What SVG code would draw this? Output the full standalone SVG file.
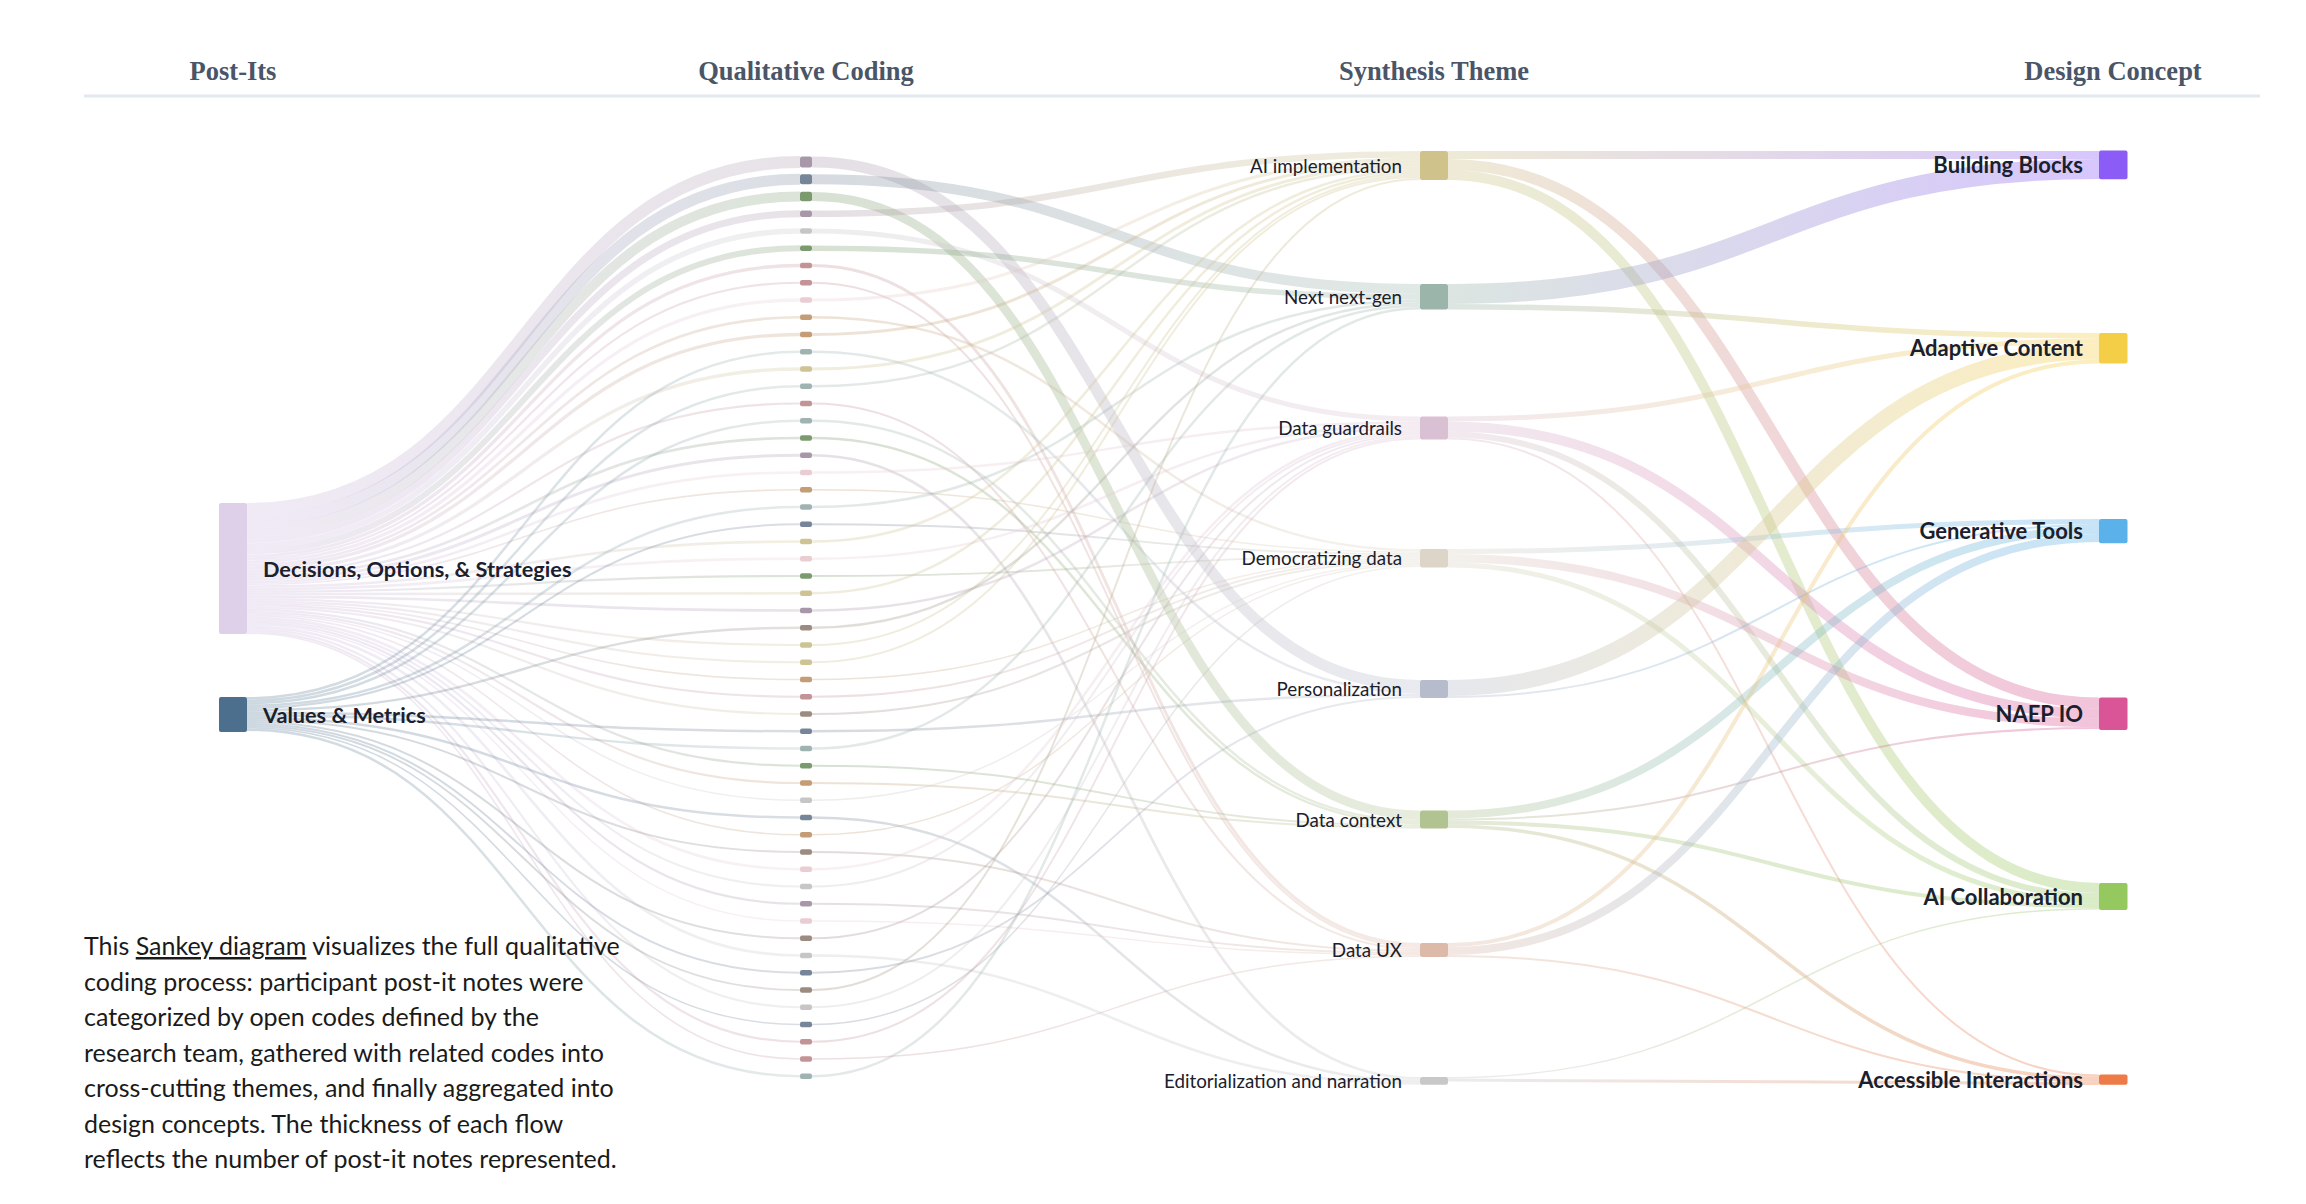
<svg xmlns="http://www.w3.org/2000/svg" width="2306" height="1204" viewBox="0 0 2306 1204">
<style>
.hdr{font-family:"Liberation Serif","DejaVu Serif",serif;font-weight:700;font-size:26.5px;fill:#4a5568;text-anchor:middle}
.lbl{font-family:Lato,"Liberation Sans",sans-serif;font-weight:700;font-size:21.7px;fill:#1a202c}
.cl{font-family:Lato,"Liberation Sans",sans-serif;font-weight:700;font-size:22px;fill:#1a202c;text-anchor:end}
.tl{font-family:Lato,"Liberation Sans",sans-serif;font-size:18.8px;fill:#1a202c;text-anchor:end}
.desc{font-family:Lato,"Liberation Sans",sans-serif;font-size:25px;fill:#1a1a1a}
.links path{fill:none}
.l1 path{stroke-opacity:.27}
.l2 path{stroke-opacity:.3}
.l3 path{stroke-opacity:.35}
.cM{fill:#a897a8}.cS{fill:#778599}.cG{fill:#7b9a6e}.cL{fill:#c6c6c6}.cR{fill:#c39497}
.cP{fill:#e9cdd2}.cT{fill:#c49d76}.cE{fill:#9fb4b2}.cK{fill:#cdc394}.cB{fill:#9b8b80}
</style>
<defs>
<linearGradient id="ga" gradientUnits="userSpaceOnUse" x1="247" y1="0" x2="800" y2="0"/>
<linearGradient id="gb" gradientUnits="userSpaceOnUse" x1="812" y1="0" x2="1420" y2="0"/>
<linearGradient id="gc" gradientUnits="userSpaceOnUse" x1="1448" y1="0" x2="2099" y2="0"/>
<linearGradient id="dM" href="#ga"><stop offset="0" stop-color="#c8b2dd"/><stop offset="1" stop-color="#a897a8"/></linearGradient>
<linearGradient id="dS" href="#ga"><stop offset="0" stop-color="#c8b2dd"/><stop offset="1" stop-color="#778599"/></linearGradient>
<linearGradient id="dG" href="#ga"><stop offset="0" stop-color="#c8b2dd"/><stop offset="1" stop-color="#7b9a6e"/></linearGradient>
<linearGradient id="dL" href="#ga"><stop offset="0" stop-color="#c8b2dd"/><stop offset="1" stop-color="#c6c6c6"/></linearGradient>
<linearGradient id="dR" href="#ga"><stop offset="0" stop-color="#c8b2dd"/><stop offset="1" stop-color="#c39497"/></linearGradient>
<linearGradient id="dP" href="#ga"><stop offset="0" stop-color="#c8b2dd"/><stop offset="1" stop-color="#e9cdd2"/></linearGradient>
<linearGradient id="dT" href="#ga"><stop offset="0" stop-color="#c8b2dd"/><stop offset="1" stop-color="#c49d76"/></linearGradient>
<linearGradient id="dK" href="#ga"><stop offset="0" stop-color="#c8b2dd"/><stop offset="1" stop-color="#cdc394"/></linearGradient>
<linearGradient id="vS" href="#ga"><stop offset="0" stop-color="#4b6f8d"/><stop offset="1" stop-color="#778599"/></linearGradient>
<linearGradient id="vE" href="#ga"><stop offset="0" stop-color="#4b6f8d"/><stop offset="1" stop-color="#9fb4b2"/></linearGradient>
<linearGradient id="vB" href="#ga"><stop offset="0" stop-color="#4b6f8d"/><stop offset="1" stop-color="#9b8b80"/></linearGradient>
<linearGradient id="kM_AI" href="#gb"><stop offset="0" stop-color="#a897a8"/><stop offset="1" stop-color="#cfc38b"/></linearGradient>
<linearGradient id="kP_AI" href="#gb"><stop offset="0" stop-color="#e9cdd2"/><stop offset="1" stop-color="#cfc38b"/></linearGradient>
<linearGradient id="kT_AI" href="#gb"><stop offset="0" stop-color="#c49d76"/><stop offset="1" stop-color="#cfc38b"/></linearGradient>
<linearGradient id="kK_AI" href="#gb"><stop offset="0" stop-color="#cdc394"/><stop offset="1" stop-color="#cfc38b"/></linearGradient>
<linearGradient id="kE_AI" href="#gb"><stop offset="0" stop-color="#9fb4b2"/><stop offset="1" stop-color="#cfc38b"/></linearGradient>
<linearGradient id="kB_AI" href="#gb"><stop offset="0" stop-color="#9b8b80"/><stop offset="1" stop-color="#cfc38b"/></linearGradient>
<linearGradient id="kS_NN" href="#gb"><stop offset="0" stop-color="#778599"/><stop offset="1" stop-color="#9bb5aa"/></linearGradient>
<linearGradient id="kG_NN" href="#gb"><stop offset="0" stop-color="#7b9a6e"/><stop offset="1" stop-color="#9bb5aa"/></linearGradient>
<linearGradient id="kE_NN" href="#gb"><stop offset="0" stop-color="#9fb4b2"/><stop offset="1" stop-color="#9bb5aa"/></linearGradient>
<linearGradient id="kB_NN" href="#gb"><stop offset="0" stop-color="#9b8b80"/><stop offset="1" stop-color="#9bb5aa"/></linearGradient>
<linearGradient id="kL_DG" href="#gb"><stop offset="0" stop-color="#c6c6c6"/><stop offset="1" stop-color="#dac0d3"/></linearGradient>
<linearGradient id="kP_DG" href="#gb"><stop offset="0" stop-color="#e9cdd2"/><stop offset="1" stop-color="#dac0d3"/></linearGradient>
<linearGradient id="kM_DG" href="#gb"><stop offset="0" stop-color="#a897a8"/><stop offset="1" stop-color="#dac0d3"/></linearGradient>
<linearGradient id="kB_DG" href="#gb"><stop offset="0" stop-color="#9b8b80"/><stop offset="1" stop-color="#dac0d3"/></linearGradient>
<linearGradient id="kR_DG" href="#gb"><stop offset="0" stop-color="#c39497"/><stop offset="1" stop-color="#dac0d3"/></linearGradient>
<linearGradient id="kT_DD" href="#gb"><stop offset="0" stop-color="#c49d76"/><stop offset="1" stop-color="#ddd5c7"/></linearGradient>
<linearGradient id="kS_DD" href="#gb"><stop offset="0" stop-color="#778599"/><stop offset="1" stop-color="#ddd5c7"/></linearGradient>
<linearGradient id="kG_DD" href="#gb"><stop offset="0" stop-color="#7b9a6e"/><stop offset="1" stop-color="#ddd5c7"/></linearGradient>
<linearGradient id="kR_DD" href="#gb"><stop offset="0" stop-color="#c39497"/><stop offset="1" stop-color="#ddd5c7"/></linearGradient>
<linearGradient id="kB_DD" href="#gb"><stop offset="0" stop-color="#9b8b80"/><stop offset="1" stop-color="#ddd5c7"/></linearGradient>
<linearGradient id="kL_DD" href="#gb"><stop offset="0" stop-color="#c6c6c6"/><stop offset="1" stop-color="#ddd5c7"/></linearGradient>
<linearGradient id="kM_PE" href="#gb"><stop offset="0" stop-color="#a897a8"/><stop offset="1" stop-color="#b6bccb"/></linearGradient>
<linearGradient id="kE_PE" href="#gb"><stop offset="0" stop-color="#9fb4b2"/><stop offset="1" stop-color="#b6bccb"/></linearGradient>
<linearGradient id="kS_PE" href="#gb"><stop offset="0" stop-color="#778599"/><stop offset="1" stop-color="#b6bccb"/></linearGradient>
<linearGradient id="kG_DC" href="#gb"><stop offset="0" stop-color="#7b9a6e"/><stop offset="1" stop-color="#b1c391"/></linearGradient>
<linearGradient id="kE_DC" href="#gb"><stop offset="0" stop-color="#9fb4b2"/><stop offset="1" stop-color="#b1c391"/></linearGradient>
<linearGradient id="kT_DC" href="#gb"><stop offset="0" stop-color="#c49d76"/><stop offset="1" stop-color="#b1c391"/></linearGradient>
<linearGradient id="kR_UX" href="#gb"><stop offset="0" stop-color="#c39497"/><stop offset="1" stop-color="#dcb9a9"/></linearGradient>
<linearGradient id="kB_UX" href="#gb"><stop offset="0" stop-color="#9b8b80"/><stop offset="1" stop-color="#dcb9a9"/></linearGradient>
<linearGradient id="kM_UX" href="#gb"><stop offset="0" stop-color="#a897a8"/><stop offset="1" stop-color="#dcb9a9"/></linearGradient>
<linearGradient id="kP_UX" href="#gb"><stop offset="0" stop-color="#e9cdd2"/><stop offset="1" stop-color="#dcb9a9"/></linearGradient>
<linearGradient id="kM_ED" href="#gb"><stop offset="0" stop-color="#a897a8"/><stop offset="1" stop-color="#c8c8c8"/></linearGradient>
<linearGradient id="kS_ED" href="#gb"><stop offset="0" stop-color="#778599"/><stop offset="1" stop-color="#c8c8c8"/></linearGradient>
<linearGradient id="kL_ED" href="#gb"><stop offset="0" stop-color="#c6c6c6"/><stop offset="1" stop-color="#c8c8c8"/></linearGradient>
<linearGradient id="tAI_BB" href="#gc"><stop offset="0" stop-color="#cfc38b"/><stop offset="1" stop-color="#8b5cf6"/></linearGradient>
<linearGradient id="tAI_NA" href="#gc"><stop offset="0" stop-color="#cfc38b"/><stop offset="1" stop-color="#d95597"/></linearGradient>
<linearGradient id="tAI_AC" href="#gc"><stop offset="0" stop-color="#cfc38b"/><stop offset="1" stop-color="#95c95f"/></linearGradient>
<linearGradient id="tNN_BB" href="#gc"><stop offset="0" stop-color="#9bb5aa"/><stop offset="1" stop-color="#8b5cf6"/></linearGradient>
<linearGradient id="tNN_AD" href="#gc"><stop offset="0" stop-color="#9bb5aa"/><stop offset="1" stop-color="#f5ce47"/></linearGradient>
<linearGradient id="tDG_AD" href="#gc"><stop offset="0" stop-color="#dac0d3"/><stop offset="1" stop-color="#f5ce47"/></linearGradient>
<linearGradient id="tDG_NA" href="#gc"><stop offset="0" stop-color="#dac0d3"/><stop offset="1" stop-color="#d95597"/></linearGradient>
<linearGradient id="tDG_AC" href="#gc"><stop offset="0" stop-color="#dac0d3"/><stop offset="1" stop-color="#95c95f"/></linearGradient>
<linearGradient id="tDG_AX" href="#gc"><stop offset="0" stop-color="#dac0d3"/><stop offset="1" stop-color="#ec7b47"/></linearGradient>
<linearGradient id="tDD_GT" href="#gc"><stop offset="0" stop-color="#ddd5c7"/><stop offset="1" stop-color="#5bb1e9"/></linearGradient>
<linearGradient id="tDD_NA" href="#gc"><stop offset="0" stop-color="#ddd5c7"/><stop offset="1" stop-color="#d95597"/></linearGradient>
<linearGradient id="tDD_AC" href="#gc"><stop offset="0" stop-color="#ddd5c7"/><stop offset="1" stop-color="#95c95f"/></linearGradient>
<linearGradient id="tPE_AD" href="#gc"><stop offset="0" stop-color="#b6bccb"/><stop offset="1" stop-color="#f5ce47"/></linearGradient>
<linearGradient id="tPE_GT" href="#gc"><stop offset="0" stop-color="#b6bccb"/><stop offset="1" stop-color="#5bb1e9"/></linearGradient>
<linearGradient id="tDC_GT" href="#gc"><stop offset="0" stop-color="#b1c391"/><stop offset="1" stop-color="#5bb1e9"/></linearGradient>
<linearGradient id="tDC_NA" href="#gc"><stop offset="0" stop-color="#b1c391"/><stop offset="1" stop-color="#d95597"/></linearGradient>
<linearGradient id="tDC_AC" href="#gc"><stop offset="0" stop-color="#b1c391"/><stop offset="1" stop-color="#95c95f"/></linearGradient>
<linearGradient id="tDC_AX" href="#gc"><stop offset="0" stop-color="#b1c391"/><stop offset="1" stop-color="#ec7b47"/></linearGradient>
<linearGradient id="tUX_AD" href="#gc"><stop offset="0" stop-color="#dcb9a9"/><stop offset="1" stop-color="#f5ce47"/></linearGradient>
<linearGradient id="tUX_GT" href="#gc"><stop offset="0" stop-color="#dcb9a9"/><stop offset="1" stop-color="#5bb1e9"/></linearGradient>
<linearGradient id="tUX_AX" href="#gc"><stop offset="0" stop-color="#dcb9a9"/><stop offset="1" stop-color="#ec7b47"/></linearGradient>
<linearGradient id="tED_AC" href="#gc"><stop offset="0" stop-color="#c8c8c8"/><stop offset="1" stop-color="#95c95f"/></linearGradient>
<linearGradient id="tED_AX" href="#gc"><stop offset="0" stop-color="#c8c8c8"/><stop offset="1" stop-color="#ec7b47"/></linearGradient>
</defs>
<rect x="0" y="0" width="2306" height="1204" fill="#ffffff"/>
<g id="headers">
<text class="hdr" x="233" y="80">Post-Its</text>
<text class="hdr" x="806" y="80">Qualitative Coding</text>
<text class="hdr" x="1434" y="80">Synthesis Theme</text>
<text class="hdr" x="2113" y="80">Design Concept</text>
<line x1="84" y1="96" x2="2260" y2="96" stroke="#e2e8f0" stroke-width="3"/>
</g>
<g id="connectors" class="links">
<g class="l1">
<path d="M247 509C523.5 509 523.5 162 800 162" stroke="url(#dM)" stroke-width="12.1"/>
<path d="M247 520.6C523.5 520.6 523.5 179.25 800 179.25" stroke="url(#dS)" stroke-width="11"/>
<path d="M247 531C523.5 531 523.5 196.5 800 196.5" stroke="url(#dG)" stroke-width="9.9"/>
<path d="M247 539.5C523.5 539.5 523.5 213.75 800 213.75" stroke="url(#dM)" stroke-width="7.1"/>
<path d="M247 545.9C523.5 545.9 523.5 231 800 231" stroke="url(#dL)" stroke-width="5.5"/>
<path d="M247 551.6C523.5 551.6 523.5 248.25 800 248.25" stroke="url(#dG)" stroke-width="6"/>
<path d="M247 556.3C523.5 556.3 523.5 265.5 800 265.5" stroke="url(#dR)" stroke-width="3.3"/>
<path d="M247 559C523.5 559 523.5 282.75 800 282.75" stroke="url(#dR)" stroke-width="2.2"/>
<path d="M247 561.8C523.5 561.8 523.5 300 800 300" stroke="url(#dP)" stroke-width="3.3"/>
<path d="M247 564.8C523.5 564.8 523.5 317.25 800 317.25" stroke="url(#dT)" stroke-width="2.7"/>
<path d="M247 567.8C523.5 567.8 523.5 334.5 800 334.5" stroke="url(#dT)" stroke-width="3.3"/>
<path d="M247 571.1C523.5 571.1 523.5 369 800 369" stroke="url(#dK)" stroke-width="3.3"/>
<path d="M247 573.9C523.5 573.9 523.5 403.5 800 403.5" stroke="url(#dR)" stroke-width="2.2"/>
<path d="M247 576.4C523.5 576.4 523.5 438 800 438" stroke="url(#dG)" stroke-width="2.7"/>
<path d="M247 579.2C523.5 579.2 523.5 455.25 800 455.25" stroke="url(#dM)" stroke-width="3"/>
<path d="M247 582.1C523.5 582.1 523.5 472.5 800 472.5" stroke="url(#dP)" stroke-width="2.7"/>
<path d="M247 584.3C523.5 584.3 523.5 489.75 800 489.75" stroke="url(#dT)" stroke-width="1.6"/>
<path d="M247 586.5C523.5 586.5 523.5 541.5 800 541.5" stroke="url(#dK)" stroke-width="2.7"/>
<path d="M247 589.2C523.5 589.2 523.5 558.75 800 558.75" stroke="url(#dP)" stroke-width="2.7"/>
<path d="M247 591.7C523.5 591.7 523.5 576 800 576" stroke="url(#dG)" stroke-width="2.2"/>
<path d="M247 594.2C523.5 594.2 523.5 593.25 800 593.25" stroke="url(#dK)" stroke-width="2.7"/>
<path d="M247 596.9C523.5 596.9 523.5 610.5 800 610.5" stroke="url(#dM)" stroke-width="2.7"/>
<path d="M247 599.4C523.5 599.4 523.5 645 800 645" stroke="url(#dK)" stroke-width="2.2"/>
<path d="M247 601.6C523.5 601.6 523.5 662.25 800 662.25" stroke="url(#dK)" stroke-width="2.2"/>
<path d="M247 603.5C523.5 603.5 523.5 679.5 800 679.5" stroke="url(#dT)" stroke-width="1.6"/>
<path d="M247 605.4C523.5 605.4 523.5 696.75 800 696.75" stroke="url(#dR)" stroke-width="2.2"/>
<path d="M247 607.6C523.5 607.6 523.5 714 800 714" stroke="url(#dK)" stroke-width="2.2"/>
<path d="M247 609.8C523.5 609.8 523.5 765.75 800 765.75" stroke="url(#dG)" stroke-width="2.2"/>
<path d="M247 612C523.5 612 523.5 783 800 783" stroke="url(#dT)" stroke-width="2.2"/>
<path d="M247 613.9C523.5 613.9 523.5 800.25 800 800.25" stroke="url(#dL)" stroke-width="1.6"/>
<path d="M247 615.6C523.5 615.6 523.5 834.75 800 834.75" stroke="url(#dT)" stroke-width="1.6"/>
<path d="M247 617.8C523.5 617.8 523.5 869.25 800 869.25" stroke="url(#dP)" stroke-width="2.7"/>
<path d="M247 620.3C523.5 620.3 523.5 886.5 800 886.5" stroke="url(#dL)" stroke-width="2.2"/>
<path d="M247 622.5C523.5 622.5 523.5 903.75 800 903.75" stroke="url(#dM)" stroke-width="2.2"/>
<path d="M247 624.4C523.5 624.4 523.5 921 800 921" stroke="url(#dP)" stroke-width="1.6"/>
<path d="M247 626.6C523.5 626.6 523.5 955.5 800 955.5" stroke="url(#dL)" stroke-width="2.7"/>
<path d="M247 629.1C523.5 629.1 523.5 1007.25 800 1007.25" stroke="url(#dL)" stroke-width="2.2"/>
<path d="M247 631.3C523.5 631.3 523.5 1041.75 800 1041.75" stroke="url(#dR)" stroke-width="2.2"/>
<path d="M247 633.2C523.5 633.2 523.5 1059 800 1059" stroke="url(#dR)" stroke-width="1.6"/>
<path d="M247 698.25C523.5 698.25 523.5 351.75 800 351.75" stroke="url(#vE)" stroke-width="2.5"/>
<path d="M247 700.75C523.5 700.75 523.5 386.25 800 386.25" stroke="url(#vE)" stroke-width="2.5"/>
<path d="M247 703.25C523.5 703.25 523.5 420.75 800 420.75" stroke="url(#vE)" stroke-width="2.5"/>
<path d="M247 705.75C523.5 705.75 523.5 507 800 507" stroke="url(#vE)" stroke-width="2.5"/>
<path d="M247 708C523.5 708 523.5 524.25 800 524.25" stroke="url(#vS)" stroke-width="2"/>
<path d="M247 710.25C523.5 710.25 523.5 627.75 800 627.75" stroke="url(#vB)" stroke-width="2.5"/>
<path d="M247 712.75C523.5 712.75 523.5 731.25 800 731.25" stroke="url(#vS)" stroke-width="2.5"/>
<path d="M247 715.25C523.5 715.25 523.5 748.5 800 748.5" stroke="url(#vE)" stroke-width="2.5"/>
<path d="M247 717.75C523.5 717.75 523.5 817.5 800 817.5" stroke="url(#vS)" stroke-width="2.5"/>
<path d="M247 720C523.5 720 523.5 852 800 852" stroke="url(#vB)" stroke-width="2"/>
<path d="M247 722C523.5 722 523.5 938.25 800 938.25" stroke="url(#vB)" stroke-width="2"/>
<path d="M247 724C523.5 724 523.5 972.75 800 972.75" stroke="url(#vS)" stroke-width="2"/>
<path d="M247 726C523.5 726 523.5 990 800 990" stroke="url(#vB)" stroke-width="2"/>
<path d="M247 727.75C523.5 727.75 523.5 1024.5 800 1024.5" stroke="url(#vS)" stroke-width="1.5"/>
<path d="M247 729.75C523.5 729.75 523.5 1076.25 800 1076.25" stroke="url(#vE)" stroke-width="2.5"/>
</g>
<g class="l2">
<path d="M812 162C1116 162 1116 685.5 1420 685.5" stroke="url(#kM_PE)" stroke-width="11"/>
<path d="M812 179.25C1116 179.25 1116 289 1420 289" stroke="url(#kS_NN)" stroke-width="10"/>
<path d="M812 196.5C1116 196.5 1116 815 1420 815" stroke="url(#kG_DC)" stroke-width="9"/>
<path d="M812 213.75C1116 213.75 1116 154.25 1420 154.25" stroke="url(#kM_AI)" stroke-width="6.5"/>
<path d="M812 231C1116 231 1116 419 1420 419" stroke="url(#kL_DG)" stroke-width="5"/>
<path d="M812 248.25C1116 248.25 1116 296.75 1420 296.75" stroke="url(#kG_NN)" stroke-width="5.5"/>
<path d="M812 265.5C1116 265.5 1116 944.5 1420 944.5" stroke="url(#kR_UX)" stroke-width="3"/>
<path d="M812 282.75C1116 282.75 1116 947 1420 947" stroke="url(#kR_UX)" stroke-width="2"/>
<path d="M812 300C1116 300 1116 159 1420 159" stroke="url(#kP_AI)" stroke-width="3"/>
<path d="M812 317.25C1116 317.25 1116 550.25 1420 550.25" stroke="url(#kT_DD)" stroke-width="2.5"/>
<path d="M812 334.5C1116 334.5 1116 162 1420 162" stroke="url(#kT_AI)" stroke-width="3"/>
<path d="M812 351.75C1116 351.75 1116 692.25 1420 692.25" stroke="url(#kE_PE)" stroke-width="2.5"/>
<path d="M812 369C1116 369 1116 165 1420 165" stroke="url(#kK_AI)" stroke-width="3"/>
<path d="M812 386.25C1116 386.25 1116 167.75 1420 167.75" stroke="url(#kE_AI)" stroke-width="2.5"/>
<path d="M812 403.5C1116 403.5 1116 949 1420 949" stroke="url(#kR_UX)" stroke-width="2"/>
<path d="M812 420.75C1116 420.75 1116 820.75 1420 820.75" stroke="url(#kE_DC)" stroke-width="2.5"/>
<path d="M812 438C1116 438 1116 823.25 1420 823.25" stroke="url(#kG_DC)" stroke-width="2.5"/>
<path d="M812 455.25C1116 455.25 1116 1078.35 1420 1078.35" stroke="url(#kM_ED)" stroke-width="2.7"/>
<path d="M812 472.5C1116 472.5 1116 422.75 1420 422.75" stroke="url(#kP_DG)" stroke-width="2.5"/>
<path d="M812 489.75C1116 489.75 1116 552.25 1420 552.25" stroke="url(#kT_DD)" stroke-width="1.5"/>
<path d="M812 507C1116 507 1116 300.75 1420 300.75" stroke="url(#kE_NN)" stroke-width="2.5"/>
<path d="M812 524.25C1116 524.25 1116 554 1420 554" stroke="url(#kS_DD)" stroke-width="2"/>
<path d="M812 541.5C1116 541.5 1116 170.25 1420 170.25" stroke="url(#kK_AI)" stroke-width="2.5"/>
<path d="M812 558.75C1116 558.75 1116 425.25 1420 425.25" stroke="url(#kP_DG)" stroke-width="2.5"/>
<path d="M812 576C1116 576 1116 556 1420 556" stroke="url(#kG_DD)" stroke-width="2"/>
<path d="M812 593.25C1116 593.25 1116 172.75 1420 172.75" stroke="url(#kK_AI)" stroke-width="2.5"/>
<path d="M812 610.5C1116 610.5 1116 427.75 1420 427.75" stroke="url(#kM_DG)" stroke-width="2.5"/>
<path d="M812 627.75C1116 627.75 1116 303.25 1420 303.25" stroke="url(#kB_NN)" stroke-width="2.5"/>
<path d="M812 645C1116 645 1116 175 1420 175" stroke="url(#kK_AI)" stroke-width="2"/>
<path d="M812 662.25C1116 662.25 1116 177 1420 177" stroke="url(#kK_AI)" stroke-width="2"/>
<path d="M812 679.5C1116 679.5 1116 557.75 1420 557.75" stroke="url(#kT_DD)" stroke-width="1.5"/>
<path d="M812 696.75C1116 696.75 1116 559.5 1420 559.5" stroke="url(#kR_DD)" stroke-width="2"/>
<path d="M812 714C1116 714 1116 561.5 1420 561.5" stroke="url(#kB_DD)" stroke-width="2"/>
<path d="M812 731.25C1116 731.25 1116 694.75 1420 694.75" stroke="url(#kS_PE)" stroke-width="2.5"/>
<path d="M812 748.5C1116 748.5 1116 305.75 1420 305.75" stroke="url(#kE_NN)" stroke-width="2.5"/>
<path d="M812 765.75C1116 765.75 1116 825.5 1420 825.5" stroke="url(#kG_DC)" stroke-width="2"/>
<path d="M812 783C1116 783 1116 827.5 1420 827.5" stroke="url(#kT_DC)" stroke-width="2"/>
<path d="M812 800.25C1116 800.25 1116 563.25 1420 563.25" stroke="url(#kL_DD)" stroke-width="1.5"/>
<path d="M812 817.5C1116 817.5 1116 1080.95 1420 1080.95" stroke="url(#kS_ED)" stroke-width="2.5"/>
<path d="M812 834.75C1116 834.75 1116 564.75 1420 564.75" stroke="url(#kT_DD)" stroke-width="1.5"/>
<path d="M812 852C1116 852 1116 951 1420 951" stroke="url(#kB_UX)" stroke-width="2"/>
<path d="M812 869.25C1116 869.25 1116 430.25 1420 430.25" stroke="url(#kP_DG)" stroke-width="2.5"/>
<path d="M812 886.5C1116 886.5 1116 432.5 1420 432.5" stroke="url(#kL_DG)" stroke-width="2"/>
<path d="M812 903.75C1116 903.75 1116 953 1420 953" stroke="url(#kM_UX)" stroke-width="2"/>
<path d="M812 921C1116 921 1116 954.75 1420 954.75" stroke="url(#kP_UX)" stroke-width="1.5"/>
<path d="M812 938.25C1116 938.25 1116 434.5 1420 434.5" stroke="url(#kB_DG)" stroke-width="2"/>
<path d="M812 955.5C1116 955.5 1116 1083.45 1420 1083.45" stroke="url(#kL_ED)" stroke-width="2.5"/>
<path d="M812 972.75C1116 972.75 1116 697 1420 697" stroke="url(#kS_PE)" stroke-width="2"/>
<path d="M812 990C1116 990 1116 179 1420 179" stroke="url(#kB_AI)" stroke-width="2"/>
<path d="M812 1007.25C1116 1007.25 1116 436.5 1420 436.5" stroke="url(#kL_DG)" stroke-width="2"/>
<path d="M812 1024.5C1116 1024.5 1116 566.25 1420 566.25" stroke="url(#kS_DD)" stroke-width="1.5"/>
<path d="M812 1041.75C1116 1041.75 1116 438.5 1420 438.5" stroke="url(#kR_DG)" stroke-width="2"/>
<path d="M812 1059C1116 1059 1116 956.25 1420 956.25" stroke="url(#kR_UX)" stroke-width="1.5"/>
<path d="M812 1076.25C1116 1076.25 1116 308.25 1420 308.25" stroke="url(#kE_NN)" stroke-width="2.5"/>
</g>
<g class="l3">
<path d="M1448 155C1773.5 155 1773.5 155 2099 155" stroke="url(#tAI_BB)" stroke-width="8"/>
<path d="M1448 164.5C1773.5 164.5 1773.5 703 2099 703" stroke="url(#tAI_NA)" stroke-width="11"/>
<path d="M1448 175C1773.5 175 1773.5 888 2099 888" stroke="url(#tAI_AC)" stroke-width="10"/>
<path d="M1448 294C1773.5 294 1773.5 169 2099 169" stroke="url(#tNN_BB)" stroke-width="20"/>
<path d="M1448 306.75C1773.5 306.75 1773.5 335.75 2099 335.75" stroke="url(#tNN_AD)" stroke-width="5.5"/>
<path d="M1448 419C1773.5 419 1773.5 341 2099 341" stroke="url(#tDG_AD)" stroke-width="5"/>
<path d="M1448 426.5C1773.5 426.5 1773.5 713.5 2099 713.5" stroke="url(#tDG_NA)" stroke-width="10"/>
<path d="M1448 434.5C1773.5 434.5 1773.5 896 2099 896" stroke="url(#tDG_AC)" stroke-width="6"/>
<path d="M1448 438.5C1773.5 438.5 1773.5 1075.5 2099 1075.5" stroke="url(#tDG_AX)" stroke-width="2"/>
<path d="M1448 551.5C1773.5 551.5 1773.5 521.5 2099 521.5" stroke="url(#tDD_GT)" stroke-width="5"/>
<path d="M1448 558.25C1773.5 558.25 1773.5 722.75 2099 722.75" stroke="url(#tDD_NA)" stroke-width="8.5"/>
<path d="M1448 565C1773.5 565 1773.5 901.5 2099 901.5" stroke="url(#tDD_AC)" stroke-width="5"/>
<path d="M1448 688C1773.5 688 1773.5 351.5 2099 351.5" stroke="url(#tPE_AD)" stroke-width="16"/>
<path d="M1448 697C1773.5 697 1773.5 525 2099 525" stroke="url(#tPE_GT)" stroke-width="2"/>
<path d="M1448 814.5C1773.5 814.5 1773.5 530 2099 530" stroke="url(#tDC_GT)" stroke-width="8"/>
<path d="M1448 819.5C1773.5 819.5 1773.5 728 2099 728" stroke="url(#tDC_NA)" stroke-width="2"/>
<path d="M1448 822.5C1773.5 822.5 1773.5 906 2099 906" stroke="url(#tDC_AC)" stroke-width="4"/>
<path d="M1448 826.25C1773.5 826.25 1773.5 1078.25 2099 1078.25" stroke="url(#tDC_AX)" stroke-width="3.5"/>
<path d="M1448 945C1773.5 945 1773.5 361.5 2099 361.5" stroke="url(#tUX_AD)" stroke-width="4"/>
<path d="M1448 951C1773.5 951 1773.5 538 2099 538" stroke="url(#tUX_GT)" stroke-width="8"/>
<path d="M1448 956C1773.5 956 1773.5 1081 2099 1081" stroke="url(#tUX_AX)" stroke-width="2"/>
<path d="M1448 1077.75C1773.5 1077.75 1773.5 908.75 2099 908.75" stroke="url(#tED_AC)" stroke-width="1.5"/>
<path d="M1448 1080C1773.5 1080 1773.5 1083.5 2099 1083.5" stroke="url(#tED_AX)" stroke-width="3"/>
</g>
</g>
<g id="postit-decisions"><rect x="219" y="503" width="28" height="131" rx="2" fill="#dfd0ea"/><text class="lbl" x="263" y="576.5">Decisions, Options, &amp; Strategies</text></g>
<g id="postit-values"><rect x="219" y="697" width="28" height="35" rx="2" fill="#4b6f8d"/><text class="lbl" x="263" y="722.5">Values &amp; Metrics</text></g>
<g id="codes">
<g id="code-01"><rect class="cM" x="800" y="156.5" width="12" height="11" rx="2"/></g>
<g id="code-02"><rect class="cS" x="800" y="174.25" width="12" height="10" rx="2"/></g>
<g id="code-03"><rect class="cG" x="800" y="191.85" width="12" height="9.3" rx="2"/></g>
<g id="code-04"><rect class="cM" x="800" y="210.4" width="12" height="6.7" rx="2"/></g>
<g id="code-05"><rect class="cL" x="800" y="228.35" width="12" height="5.3" rx="2"/></g>
<g id="code-06"><rect class="cG" x="800" y="245.5" width="12" height="5.5" rx="2"/></g>
<g id="code-07"><rect class="cR" x="800" y="262.75" width="12" height="5.5" rx="2"/></g>
<g id="code-08"><rect class="cR" x="800" y="280" width="12" height="5.5" rx="2"/></g>
<g id="code-09"><rect class="cP" x="800" y="297.25" width="12" height="5.5" rx="2"/></g>
<g id="code-10"><rect class="cT" x="800" y="314.5" width="12" height="5.5" rx="2"/></g>
<g id="code-11"><rect class="cT" x="800" y="331.75" width="12" height="5.5" rx="2"/></g>
<g id="code-12"><rect class="cE" x="800" y="349" width="12" height="5.5" rx="2"/></g>
<g id="code-13"><rect class="cK" x="800" y="366.25" width="12" height="5.5" rx="2"/></g>
<g id="code-14"><rect class="cE" x="800" y="383.5" width="12" height="5.5" rx="2"/></g>
<g id="code-15"><rect class="cR" x="800" y="400.75" width="12" height="5.5" rx="2"/></g>
<g id="code-16"><rect class="cE" x="800" y="418" width="12" height="5.5" rx="2"/></g>
<g id="code-17"><rect class="cG" x="800" y="435.25" width="12" height="5.5" rx="2"/></g>
<g id="code-18"><rect class="cM" x="800" y="452.5" width="12" height="5.5" rx="2"/></g>
<g id="code-19"><rect class="cP" x="800" y="469.75" width="12" height="5.5" rx="2"/></g>
<g id="code-20"><rect class="cT" x="800" y="487" width="12" height="5.5" rx="2"/></g>
<g id="code-21"><rect class="cE" x="800" y="504.25" width="12" height="5.5" rx="2"/></g>
<g id="code-22"><rect class="cS" x="800" y="521.5" width="12" height="5.5" rx="2"/></g>
<g id="code-23"><rect class="cK" x="800" y="538.75" width="12" height="5.5" rx="2"/></g>
<g id="code-24"><rect class="cP" x="800" y="556" width="12" height="5.5" rx="2"/></g>
<g id="code-25"><rect class="cG" x="800" y="573.25" width="12" height="5.5" rx="2"/></g>
<g id="code-26"><rect class="cK" x="800" y="590.5" width="12" height="5.5" rx="2"/></g>
<g id="code-27"><rect class="cM" x="800" y="607.75" width="12" height="5.5" rx="2"/></g>
<g id="code-28"><rect class="cB" x="800" y="625" width="12" height="5.5" rx="2"/></g>
<g id="code-29"><rect class="cK" x="800" y="642.25" width="12" height="5.5" rx="2"/></g>
<g id="code-30"><rect class="cK" x="800" y="659.5" width="12" height="5.5" rx="2"/></g>
<g id="code-31"><rect class="cT" x="800" y="676.75" width="12" height="5.5" rx="2"/></g>
<g id="code-32"><rect class="cR" x="800" y="694" width="12" height="5.5" rx="2"/></g>
<g id="code-33"><rect class="cB" x="800" y="711.25" width="12" height="5.5" rx="2"/></g>
<g id="code-34"><rect class="cS" x="800" y="728.5" width="12" height="5.5" rx="2"/></g>
<g id="code-35"><rect class="cE" x="800" y="745.75" width="12" height="5.5" rx="2"/></g>
<g id="code-36"><rect class="cG" x="800" y="763" width="12" height="5.5" rx="2"/></g>
<g id="code-37"><rect class="cT" x="800" y="780.25" width="12" height="5.5" rx="2"/></g>
<g id="code-38"><rect class="cL" x="800" y="797.5" width="12" height="5.5" rx="2"/></g>
<g id="code-39"><rect class="cS" x="800" y="814.75" width="12" height="5.5" rx="2"/></g>
<g id="code-40"><rect class="cT" x="800" y="832" width="12" height="5.5" rx="2"/></g>
<g id="code-41"><rect class="cB" x="800" y="849.25" width="12" height="5.5" rx="2"/></g>
<g id="code-42"><rect class="cP" x="800" y="866.5" width="12" height="5.5" rx="2"/></g>
<g id="code-43"><rect class="cL" x="800" y="883.75" width="12" height="5.5" rx="2"/></g>
<g id="code-44"><rect class="cM" x="800" y="901" width="12" height="5.5" rx="2"/></g>
<g id="code-45"><rect class="cP" x="800" y="918.25" width="12" height="5.5" rx="2"/></g>
<g id="code-46"><rect class="cB" x="800" y="935.5" width="12" height="5.5" rx="2"/></g>
<g id="code-47"><rect class="cL" x="800" y="952.75" width="12" height="5.5" rx="2"/></g>
<g id="code-48"><rect class="cS" x="800" y="970" width="12" height="5.5" rx="2"/></g>
<g id="code-49"><rect class="cB" x="800" y="987.25" width="12" height="5.5" rx="2"/></g>
<g id="code-50"><rect class="cL" x="800" y="1004.5" width="12" height="5.5" rx="2"/></g>
<g id="code-51"><rect class="cS" x="800" y="1021.75" width="12" height="5.5" rx="2"/></g>
<g id="code-52"><rect class="cR" x="800" y="1039" width="12" height="5.5" rx="2"/></g>
<g id="code-53"><rect class="cR" x="800" y="1056.25" width="12" height="5.5" rx="2"/></g>
<g id="code-54"><rect class="cE" x="800" y="1073.5" width="12" height="5.5" rx="2"/></g>
</g>
<g id="theme-ai-implementation"><rect x="1420" y="151" width="28" height="29" rx="2" fill="#cfc38b"/><text class="tl" x="1402" y="172.5">AI implementation</text></g>
<g id="theme-next-next-gen"><rect x="1420" y="284" width="28" height="25.5" rx="2" fill="#9bb5aa"/><text class="tl" x="1402" y="303.5">Next next-gen</text></g>
<g id="theme-data-guardrails"><rect x="1420" y="416.5" width="28" height="23" rx="2" fill="#dac0d3"/><text class="tl" x="1402" y="435">Data guardrails</text></g>
<g id="theme-democratizing-data"><rect x="1420" y="549" width="28" height="18.5" rx="2" fill="#ddd5c7"/><text class="tl" x="1402" y="565">Democratizing data</text></g>
<g id="theme-personalization"><rect x="1420" y="680" width="28" height="18" rx="2" fill="#b6bccb"/><text class="tl" x="1402" y="696">Personalization</text></g>
<g id="theme-data-context"><rect x="1420" y="810.5" width="28" height="18" rx="2" fill="#b1c391"/><text class="tl" x="1402" y="826.5">Data context</text></g>
<g id="theme-data-ux"><rect x="1420" y="943" width="28" height="14" rx="2" fill="#dcb9a9"/><text class="tl" x="1402" y="957">Data UX</text></g>
<g id="theme-editorialization"><rect x="1420" y="1077" width="28" height="7.7" rx="2" fill="#c8c8c8"/><text class="tl" x="1402" y="1088">Editorialization and narration</text></g>
<g id="concept-building-blocks"><rect x="2099" y="150.5" width="28.5" height="28.7" rx="2" fill="#8b5cf6"/><text class="cl" x="2083" y="172.8">Building Blocks</text></g>
<g id="concept-adaptive-content"><rect x="2099" y="333" width="28.5" height="30.5" rx="2" fill="#f5ce47"/><text class="cl" x="2083" y="356">Adaptive Content</text></g>
<g id="concept-generative-tools"><rect x="2099" y="519" width="28.5" height="24.3" rx="2" fill="#5bb1e9"/><text class="cl" x="2083" y="539">Generative Tools</text></g>
<g id="concept-naep-io"><rect x="2099" y="697.5" width="28.5" height="32.5" rx="2" fill="#d95597"/><text class="cl" x="2083" y="721.5">NAEP IO</text></g>
<g id="concept-ai-collaboration"><rect x="2099" y="883" width="28.5" height="27" rx="2" fill="#95c95f"/><text class="cl" x="2083" y="904.5">AI Collaboration</text></g>
<g id="concept-accessible-interactions"><rect x="2099" y="1074.5" width="28.5" height="10.2" rx="2" fill="#ec7b47"/><text class="cl" x="2083" y="1087.5">Accessible Interactions</text></g>
<g id="description">
<text class="desc" x="84" y="955">This <tspan text-decoration="underline">Sankey diagram</tspan> visualizes the full qualitative</text>
<text class="desc" x="84" y="990.5">coding process: participant post-it notes were</text>
<text class="desc" x="84" y="1026">categorized by open codes defined by the</text>
<text class="desc" x="84" y="1061.5">research team, gathered with related codes into</text>
<text class="desc" x="84" y="1097">cross-cutting themes, and finally aggregated into</text>
<text class="desc" x="84" y="1132.5">design concepts. The thickness of each flow</text>
<text class="desc" x="84" y="1168">reflects the number of post-it notes represented.</text>
</g>
</svg>
